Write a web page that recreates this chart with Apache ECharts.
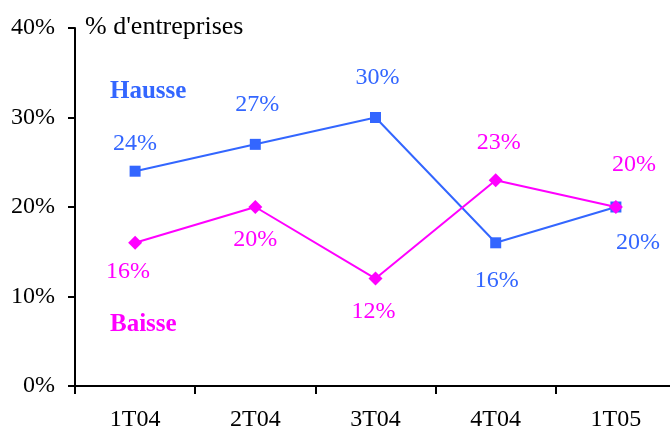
<!DOCTYPE html>
<html>
<head>
<meta charset="utf-8">
<script src="https://cdn.jsdelivr.net/npm/echarts@6/dist/echarts.min.js"></script>
<style>
  html, body { margin: 0; padding: 0; background: #fff; overflow: hidden; }
  /* un peu plus large que la fenetre : l'axe des x sort du cadre a droite */
  #chart { width: 676px; height: 433px; }
</style>
</head>
<body>
<div id="chart"></div>
<script>
// trimestres
const categories = ['1T04', '2T04', '3T04', '4T04', '1T05'];
// % d'entreprises
const hausse = [24, 27, 30, 16, 20];
const baisse = [16, 20, 12, 23, 20];
const yTicks = [0, 10, 20, 30, 40];

const BLUE = '#3366ff';
const PINK = '#ff00ff';
const FONT = '"Liberation Serif", "DejaVu Serif", serif';

// decalage des etiquettes [x, y] autour de chaque point
const hausseLbl = [[0, -27], [2, -40], [2, -40], [1, 38], [22, 36]];
const baisseLbl = [[-7, 29], [0, 33], [-2, 33], [3, -37], [18, -42]];

function withLabels(vals, offs, color) {
  return vals.map((v, i) => ({
    value: v,
    label: {
      show: true,
      position: 'inside',
      offset: offs[i],
      formatter: v + '%',
      color: color,
      fontFamily: FONT,
      fontSize: 24
    }
  }));
}

const myChart = echarts.init(document.getElementById('chart'));
myChart.setOption({
  animation: false,
  grid: { left: 75, right: 0, top: 28, bottom: 47 },
  xAxis: {
    type: 'category',
    data: categories,
    boundaryGap: true,
    axisLine: { lineStyle: { color: '#000', width: 2 } },
    axisTick: { show: true, length: 8, lineStyle: { color: '#000', width: 2 } },
    axisLabel: { color: '#000', fontFamily: FONT, fontSize: 24, margin: 22 },
    splitLine: { show: false }
  },
  yAxis: {
    type: 'value',
    min: yTicks[0],
    max: yTicks[yTicks.length - 1],
    interval: 10,
    axisLine: { show: true, lineStyle: { color: '#000', width: 2 } },
    axisTick: { show: true, length: 7, lineStyle: { color: '#000', width: 2 } },
    axisLabel: { color: '#000', fontFamily: FONT, fontSize: 24, margin: 20, formatter: '{value}%' },
    splitLine: { show: false }
  },
  graphic: [
    { type: 'text', left: 85, top: 14, style: { text: "% d'entreprises", font: '26px ' + FONT, fill: '#000' } },
    { type: 'text', left: 110, top: 79, style: { text: 'Hausse', font: 'bold 25px ' + FONT, fill: BLUE } },
    { type: 'text', left: 110, top: 312, style: { text: 'Baisse', font: 'bold 25px ' + FONT, fill: PINK } }
  ],
  series: [
    {
      name: 'Hausse',
      type: 'line',
      data: withLabels(hausse, hausseLbl, BLUE),
      symbol: 'rect',
      symbolSize: 11,
      itemStyle: { color: BLUE },
      lineStyle: { color: BLUE, width: 2 },
      z: 2
    },
    {
      name: 'Baisse',
      type: 'line',
      data: withLabels(baisse, baisseLbl, PINK),
      symbol: 'diamond',
      symbolSize: 14,
      itemStyle: { color: PINK },
      lineStyle: { color: PINK, width: 2 },
      z: 3
    }
  ]
});
</script>
</body>
</html>
